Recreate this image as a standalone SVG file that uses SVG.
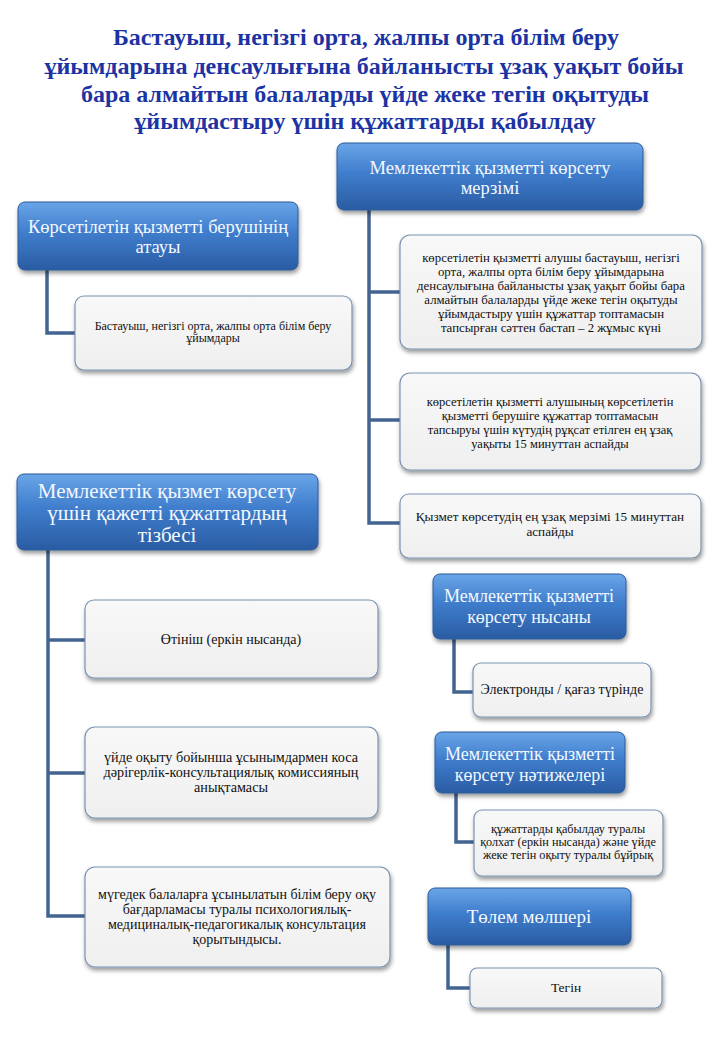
<svg xmlns="http://www.w3.org/2000/svg" width="720" height="1040" viewBox="0 0 720 1040">
<defs>
<linearGradient id="hg" x1="0" y1="0" x2="0" y2="1">
<stop offset="0" stop-color="#6aa5e8"/>
<stop offset="0.45" stop-color="#3f7dcc"/>
<stop offset="1" stop-color="#2a5ca3"/>
</linearGradient>
<linearGradient id="cg" x1="0" y1="0" x2="0" y2="1">
<stop offset="0" stop-color="#f8f8f8"/>
<stop offset="1" stop-color="#efefef"/>
</linearGradient>
<filter id="sh" x="-10%" y="-10%" width="120%" height="130%">
<feDropShadow dx="1" dy="3" stdDeviation="2" flood-color="#000" flood-opacity="0.4"/>
</filter>
</defs>
<style>
.hdr{fill:url(#hg);stroke:#2d5b98;stroke-width:1;filter:url(#sh)}
.chd{fill:url(#cg);stroke:#7a93b3;stroke-width:1.2;filter:url(#sh)}
.ht{font-family:"Liberation Serif","Times New Roman","DejaVu Serif",serif;fill:#f4f8ff;text-anchor:middle}
.ct{font-family:"Liberation Serif","Times New Roman","DejaVu Serif",serif;fill:#111;text-anchor:middle}
.title{font-family:"Liberation Serif","Times New Roman","DejaVu Serif",serif;font-weight:bold;font-size:24px;fill:#1c33a3;text-anchor:middle}
.conn{fill:none;stroke:#436491;stroke-width:3.5}
</style>
<rect width="720" height="1040" fill="#fff"/>
<g id="title">
<text class="title" x="366" y="45">Бастауыш, негізгі орта, жалпы орта білім беру</text>
<text class="title" x="364" y="74">ұйымдарына денсаулығына байланысты ұзақ уақыт бойы</text>
<text class="title" x="365" y="102">бара алмайтын балаларды үйде жеке тегін оқытуды</text>
<text class="title" x="365" y="129">ұйымдастыру үшін құжаттарды қабылдау</text>
</g>
<g id="connectors">
<path class="conn" d="M47 270 V333 H75"/>
<path class="conn" d="M369 210 V523 H400 M369 292 H400 M369 420 H400"/>
<path class="conn" d="M48 550 V916 H85 M48 640 H85 M48 773 H85"/>
<path class="conn" d="M454 639 V692 H473"/>
<path class="conn" d="M456 793 V842 H474"/>
<path class="conn" d="M448 945 V988 H470"/>
</g>
<g id="hdrA">
<rect class="hdr" x="18" y="202" width="280" height="68" rx="7"/>
<text class="ht" font-size="18.5" x="158" y="233">Көрсетілетін қызметті берушінің</text>
<text class="ht" font-size="18.5" x="158" y="253">атауы</text>
</g>
<g id="childA1">
<rect class="chd" x="75" y="296" width="277" height="74" rx="9"/>
<text class="ct" font-size="12" x="213" y="330">Бастауыш, негізгі орта, жалпы орта білім беру</text>
<text class="ct" font-size="12" x="213" y="342">ұйымдары</text>
</g>
<g id="hdrB">
<rect class="hdr" x="337" y="143" width="306" height="67" rx="7"/>
<text class="ht" font-size="18.5" x="490" y="174">Мемлекеттік қызметті көрсету</text>
<text class="ht" font-size="18.5" x="490" y="194">мерзімі</text>
</g>
<g id="childB1">
<rect class="chd" x="400" y="235" width="302" height="114" rx="10"/>
<text class="ct" font-size="12.8" x="551" y="262">көрсетілетін қызметті алушы бастауыш, негізгі</text>
<text class="ct" font-size="12.8" x="551" y="276">орта, жалпы орта білім беру ұйымдарына</text>
<text class="ct" font-size="12.8" x="551" y="290">денсаулығына байланысты ұзақ уақыт бойы бара</text>
<text class="ct" font-size="12.8" x="551" y="304">алмайтын балаларды үйде жеке тегін оқытуды</text>
<text class="ct" font-size="12.8" x="551" y="318">ұйымдастыру үшін құжаттар топтамасын</text>
<text class="ct" font-size="12.8" x="551" y="332">тапсырған сәттен бастап – 2 жұмыс күні</text>
</g>
<g id="childB2">
<rect class="chd" x="400" y="373" width="301" height="97" rx="10"/>
<text class="ct" font-size="12.5" x="550" y="406">көрсетілетін қызметті алушының көрсетілетін</text>
<text class="ct" font-size="12.5" x="550" y="420">қызметті берушіге құжаттар топтамасын</text>
<text class="ct" font-size="12.5" x="550" y="434">тапсыруы үшін күтудің рұқсат етілген ең ұзақ</text>
<text class="ct" font-size="12.5" x="550" y="448">уақыты 15 минуттан аспайды</text>
</g>
<g id="childB3">
<rect class="chd" x="400" y="494" width="301" height="64" rx="9"/>
<text class="ct" font-size="13.2" x="550" y="521">Қызмет көрсетудің ең ұзақ мерзімі 15 минуттан</text>
<text class="ct" font-size="13.2" x="550" y="536">аспайды</text>
</g>
<g id="hdrC">
<rect class="hdr" x="17" y="474" width="301" height="76" rx="7"/>
<text class="ht" font-size="21" x="167" y="498">Мемлекеттік қызмет көрсету</text>
<text class="ht" font-size="21" x="167" y="520">үшін қажетті құжаттардың</text>
<text class="ht" font-size="21" x="167" y="542">тізбесі</text>
</g>
<g id="childC1">
<rect class="chd" x="85" y="600" width="293" height="78" rx="9"/>
<text class="ct" font-size="14" x="231" y="644">Өтініш (еркін нысанда)</text>
</g>
<g id="childC2">
<rect class="chd" x="85" y="727" width="293" height="91" rx="10"/>
<text class="ct" font-size="14.2" x="231" y="762">үйде оқыту бойынша ұсынымдармен коса</text>
<text class="ct" font-size="14.2" x="231" y="777">дәрігерлік-консультациялық комиссияның</text>
<text class="ct" font-size="14.2" x="231" y="792">анықтамасы</text>
</g>
<g id="childC3">
<rect class="chd" x="85" y="867" width="305" height="100" rx="10"/>
<text class="ct" font-size="14" x="237" y="899">мүгедек балаларға ұсынылатын білім беру оқу</text>
<text class="ct" font-size="14" x="237" y="914">бағдарламасы туралы психологиялық-</text>
<text class="ct" font-size="14" x="237" y="929">медициналық-педагогикалық консультация</text>
<text class="ct" font-size="14" x="237" y="944">қорытындысы.</text>
</g>
<g id="hdrD">
<rect class="hdr" x="433" y="574" width="193" height="65" rx="7"/>
<text class="ht" font-size="18" x="529" y="602">Мемлекеттік қызметті</text>
<text class="ht" font-size="18" x="529" y="623">көрсету нысаны</text>
</g>
<g id="childD1">
<rect class="chd" x="473" y="663" width="178" height="54" rx="8"/>
<text class="ct" font-size="14" x="562" y="694">Электронды / қағаз түрінде</text>
</g>
<g id="hdrE">
<rect class="hdr" x="435" y="732" width="190" height="61" rx="7"/>
<text class="ht" font-size="18" x="530" y="760">Мемлекеттік қызметті</text>
<text class="ht" font-size="18" x="530" y="781">көрсету нәтижелері</text>
</g>
<g id="childE1">
<rect class="chd" x="474" y="810" width="189" height="66" rx="8"/>
<text class="ct" font-size="12.2" x="568" y="833">құжаттарды қабылдау туралы</text>
<text class="ct" font-size="12.2" x="568" y="846">қолхат (еркін нысанда) және үйде</text>
<text class="ct" font-size="12.2" x="568" y="859">жеке тегін оқыту туралы бұйрық</text>
</g>
<g id="hdrF">
<rect class="hdr" x="428" y="888" width="203" height="57" rx="7"/>
<text class="ht" font-size="19" x="529" y="923">Төлем мөлшері</text>
</g>
<g id="childF1">
<rect class="chd" x="470" y="968" width="192" height="40" rx="7"/>
<text class="ct" font-size="13.5" x="566" y="992">Тегін</text>
</g>
</svg>
